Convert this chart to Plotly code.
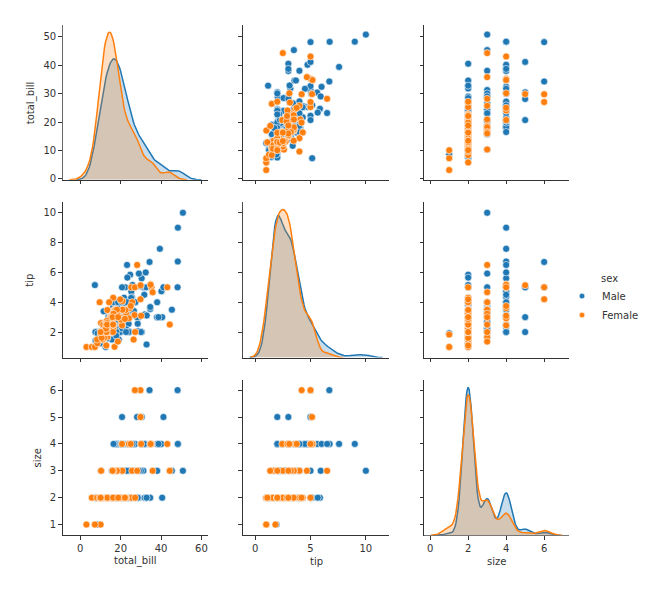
import numpy as np
import plotly.graph_objects as go

# ---------------- data (tips, split by sex) ----------------
male_total_bill = [10.34, 21.01, 23.68, 25.29, 8.77, 26.88, 15.04, 14.78, 10.27, 15.42, 18.43, 21.58, 16.29, 20.65,
                   17.92, 39.42, 19.82, 17.81, 13.37, 12.69, 21.70, 9.55, 18.35, 17.78, 24.06, 16.31, 18.69, 31.27,
                   16.04, 17.46, 13.94, 9.68, 30.40, 18.29, 22.23, 32.40, 28.55, 18.04, 12.54, 9.94, 25.56, 19.49,
                   38.01, 11.24, 48.27, 20.29, 13.81, 11.02, 18.29, 17.59, 20.08, 20.23, 15.01, 12.02, 10.51, 17.92,
                   27.20, 22.76, 17.29, 19.44, 16.66, 32.68, 15.98, 13.03, 18.28, 24.71, 21.16, 28.97, 22.49, 40.17,
                   27.28, 12.03, 21.01, 12.46, 15.36, 20.49, 25.21, 18.24, 14.00, 38.07, 23.95, 29.93, 11.69, 14.26,
                   15.95, 8.52, 22.82, 19.08, 16.00, 34.30, 41.19, 9.78, 7.51, 14.07, 13.13, 17.26, 24.55, 19.77,
                   48.17, 16.49, 21.50, 12.66, 13.81, 24.52, 20.76, 31.71, 50.81, 15.81, 7.25, 31.85, 16.82, 32.90,
                   17.89, 14.48, 34.63, 34.65, 23.33, 45.35, 23.17, 40.55, 20.69, 30.46, 23.10, 15.69, 28.44, 15.48,
                   16.58, 7.56, 10.34, 13.51, 18.71, 20.53, 26.59, 38.73, 24.27, 30.06, 25.89, 48.33, 28.15, 11.59,
                   7.74, 12.16, 8.58, 13.42, 20.45, 13.28, 24.01, 15.69, 11.61, 10.77, 15.53, 10.07, 12.60, 32.83,
                   29.03, 22.67, 17.82]
male_tip = [1.66, 3.50, 3.31, 4.71, 2.00, 3.12, 1.96, 3.23, 1.71, 1.57, 3.00, 3.92, 3.71, 3.35,
            4.08, 7.58, 3.18, 2.34, 2.00, 2.00, 4.30, 1.45, 2.50, 3.27, 3.60, 2.00, 2.31, 5.00,
            2.24, 2.54, 3.06, 1.32, 5.60, 3.00, 5.00, 6.00, 2.05, 3.00, 2.50, 1.56, 4.34, 3.51,
            3.00, 1.76, 6.73, 3.21, 2.00, 1.98, 3.76, 2.64, 3.15, 2.01, 2.09, 1.97, 1.25, 3.08,
            4.00, 3.00, 2.71, 3.00, 3.40, 5.00, 2.03, 2.00, 4.00, 5.85, 3.00, 3.00, 3.50, 4.73,
            4.00, 1.50, 3.00, 1.50, 1.64, 4.06, 4.29, 3.76, 3.00, 4.00, 2.55, 5.07, 2.31, 2.50,
            2.00, 1.48, 2.18, 1.50, 2.00, 6.70, 5.00, 1.73, 2.00, 2.50, 2.00, 2.74, 2.00, 2.00,
            5.00, 2.00, 3.50, 2.50, 2.00, 3.48, 2.24, 4.50, 10.00, 3.16, 5.15, 3.18, 4.00, 3.11,
            2.00, 2.00, 3.55, 3.68, 5.65, 3.50, 6.50, 3.00, 5.00, 2.00, 4.00, 1.50, 2.56, 2.02,
            4.00, 1.44, 2.00, 2.00, 4.00, 4.00, 3.41, 3.00, 2.03, 2.00, 5.16, 9.00, 3.00, 1.50,
            1.44, 2.20, 1.92, 1.58, 3.00, 2.72, 2.00, 3.00, 3.39, 1.47, 3.00, 1.25, 1.00, 1.17,
            5.92, 2.00, 1.75]
male_size = [3, 3, 2, 4, 2, 4, 2, 2, 2, 2, 4, 2, 3, 3,
             2, 4, 2, 4, 2, 2, 2, 2, 4, 2, 3, 3, 3, 3,
             3, 2, 2, 2, 4, 2, 2, 4, 3, 2, 2, 2, 4, 2,
             4, 2, 4, 2, 2, 2, 4, 3, 3, 2, 2, 2, 2, 2,
             4, 2, 2, 2, 2, 2, 2, 2, 2, 2, 2, 2, 2, 4,
             2, 2, 2, 2, 2, 2, 2, 2, 2, 3, 2, 4, 2, 2,
             2, 2, 3, 2, 2, 6, 5, 2, 2, 2, 2, 3, 4, 4,
             6, 4, 4, 2, 2, 3, 2, 4, 3, 2, 2, 2, 2, 2,
             2, 2, 2, 4, 2, 3, 4, 2, 5, 5, 3, 2, 2, 2,
             2, 2, 2, 2, 3, 4, 3, 4, 2, 3, 4, 4, 5, 2,
             2, 2, 1, 2, 4, 2, 4, 3, 2, 2, 2, 2, 2, 2,
             3, 2, 2]

female_total_bill = [16.99, 24.59, 35.26, 14.83, 10.33, 16.97, 20.29, 15.77, 19.65, 15.06, 20.69, 16.93, 10.29,
                     34.81, 26.41, 16.45, 3.07, 17.07, 26.86, 25.28, 14.73, 10.07, 34.83, 5.75, 16.32, 22.75,
                     11.35, 15.38, 44.30, 22.42, 20.92, 14.31, 7.25, 25.71, 17.31, 10.65, 12.43, 24.08, 13.42,
                     12.48, 29.80, 14.52, 11.38, 20.27, 11.17, 12.26, 18.26, 8.51, 10.33, 14.15, 13.16, 17.47,
                     27.05, 16.43, 8.35, 18.64, 11.87, 29.85, 25.00, 13.39, 16.21, 17.51, 10.59, 10.63, 9.60,
                     20.90, 18.15, 19.81, 43.11, 13.00, 12.74, 13.00, 16.40, 16.47, 12.76, 13.27, 28.17, 12.90,
                     30.14, 13.42, 15.98, 16.27, 10.09, 22.12, 35.83, 27.18, 18.78]
female_tip = [1.01, 3.61, 5.00, 3.02, 1.67, 3.50, 2.75, 2.23, 3.00, 3.00, 2.45, 3.07, 2.60,
              5.20, 1.50, 2.47, 1.00, 3.00, 3.14, 5.00, 2.20, 1.83, 5.17, 1.00, 4.30, 3.25,
              2.50, 3.00, 2.50, 3.48, 4.08, 4.00, 1.00, 4.00, 3.50, 1.50, 1.80, 2.92, 1.68,
              2.52, 4.20, 2.00, 2.00, 2.83, 1.50, 2.00, 3.25, 1.25, 2.00, 2.00, 2.75, 3.50,
              5.00, 2.30, 1.50, 1.36, 1.63, 5.14, 3.75, 2.61, 2.00, 3.00, 1.61, 2.00, 4.00,
              3.50, 3.50, 4.19, 5.00, 2.00, 2.01, 2.00, 2.50, 3.23, 2.23, 2.50, 6.50, 1.10,
              3.09, 3.48, 3.00, 2.50, 2.00, 2.88, 4.67, 2.00, 3.00]
female_size = [2, 4, 4, 2, 3, 3, 2, 2, 2, 2, 4, 3, 2,
               4, 2, 2, 1, 3, 2, 2, 2, 1, 4, 2, 2, 2,
               2, 2, 3, 2, 2, 2, 1, 3, 2, 2, 2, 4, 2,
               2, 6, 2, 2, 2, 2, 2, 2, 2, 2, 2, 2, 2,
               6, 2, 2, 3, 2, 5, 4, 2, 3, 2, 2, 2, 2,
               3, 3, 2, 4, 2, 2, 2, 2, 3, 2, 2, 3, 2,
               4, 2, 3, 2, 2, 2, 3, 2, 2]

variables = ["total_bill", "tip", "size"]
hue_levels = ["Male", "Female"]
hue_title = "sex"
x_tickvals = {"total_bill": [0, 20, 40, 60], "tip": [0, 5, 10], "size": [0, 2, 4, 6]}
y_tickvals = {"total_bill": [0, 10, 20, 30, 40, 50], "tip": [2, 4, 6, 8, 10], "size": [1, 2, 3, 4, 5, 6]}

# ---------------- styling / layout constants ----------------
PAGE_W, PAGE_H = 652, 596
OFF = 8                      # default margin of the html body around the figure
W, H = PAGE_W - 2 * OFF, PAGE_H - 2 * OFF
FONT = "DejaVu Sans"
TXT = "#333333"
colors = {"Male": "#1f77b4", "Female": "#ff7f0e"}
fills = {"Male": "rgba(31,119,180,0.25)", "Female": "rgba(255,127,14,0.25)"}
# positions below are in page pixels
col_px = [(63, 209), (244, 391), (426.3, 571.7)]
row_px = [(25, 181), (203.5, 360), (382.5, 539)]
y_ranges = {"total_bill": [-0.36, 54.24], "tip": [0.29, 10.71], "size": [0.6, 6.38]}
ytitle_x_px = {"total_bill": 31, "tip": 30, "size": 38}
xtitle_y_px = 565
legend_left_px, legend_top_px = 565, 283.5
legend_title_px = (612, 280)


def px(xp):
    return (xp - OFF) / W


def py(yp):
    return 1 - (yp - OFF) / H


data = {
    "Male": {"total_bill": male_total_bill, "tip": male_tip, "size": male_size},
    "Female": {"total_bill": female_total_bill, "tip": female_tip, "size": female_size},
}


def kde(values, cut=3, gridsize=128):
    v = np.asarray(values, dtype=float)
    n = len(v)
    q75, q25 = np.percentile(v, [75, 25])
    a = min(np.std(v, ddof=1), (q75 - q25) / 1.349)
    bw = 1.059 * a * n ** (-0.2)
    grid = np.linspace(v.min() - cut * bw, v.max() + cut * bw, gridsize)
    dens = np.exp(-0.5 * ((grid[:, None] - v[None, :]) / bw) ** 2).sum(axis=1) / (n * bw * np.sqrt(2 * np.pi))
    return grid, dens


kdes = {var: {h: kde(data[h][var]) for h in hue_levels} for var in variables}
x_ranges = {}
for var in variables:
    lo = min(kdes[var][h][0].min() for h in hue_levels)
    hi = max(kdes[var][h][0].max() for h in hue_levels)
    pad = 0.05 * (hi - lo)
    x_ranges[var] = [lo - pad, hi + pad]

fig = go.Figure()
layout = {}
annotations = []

axis_common = dict(showgrid=False, zeroline=False, showline=True, linecolor=TXT, linewidth=1,
                   ticks="outside", ticklen=3.5, tickwidth=1, tickcolor=TXT,
                   tickfont=dict(family=FONT, size=10, color=TXT))


def ax_names(k):
    return ("x" if k == 1 else f"x{k}", "y" if k == 1 else f"y{k}",
            "xaxis" if k == 1 else f"xaxis{k}", "yaxis" if k == 1 else f"yaxis{k}")


for i, yvar in enumerate(variables):
    for j, xvar in enumerate(variables):
        k = i * 3 + j + 1
        xn, yn, xk, yk = ax_names(k)
        x0, x1 = col_px[j]
        t0, t1 = row_px[i]
        xdom = [px(x0), px(x1)]
        ydom = [py(t1), py(t0)]
        layout[xk] = dict(axis_common, domain=xdom, range=x_ranges[xvar], anchor=yn,
                          tickvals=x_tickvals[xvar], showticklabels=(i == 2))
        layout[yk] = dict(axis_common, domain=ydom, range=y_ranges[yvar], anchor=xn,
                          tickvals=y_tickvals[yvar], showticklabels=(j == 0))
        if i == 2:
            annotations.append(dict(text=xvar, xref="paper", yref="paper", x=px((x0 + x1) / 2),
                                    y=py(xtitle_y_px), xanchor="center", yanchor="middle",
                                    showarrow=False, font=dict(family=FONT, size=10, color=TXT)))
        if j == 0:
            annotations.append(dict(text=yvar, xref="paper", yref="paper", x=px(ytitle_x_px[yvar]),
                                    y=py((t0 + t1) / 2), xanchor="center", yanchor="middle",
                                    textangle=-90, showarrow=False,
                                    font=dict(family=FONT, size=10, color=TXT)))

        if i == j:
            # visible axes of the diagonal cell (no marks of their own)
            fig.add_trace(go.Scatter(x=[None], y=[None], mode="markers", xaxis=xn, yaxis=yn,
                                     showlegend=False, hoverinfo="skip"))
            # hidden twin axes carrying the density curves
            kk = 10 + i
            dmax = max(kdes[xvar][h][1].max() for h in hue_levels)
            layout[f"xaxis{kk}"] = dict(domain=xdom, range=x_ranges[xvar], anchor=f"y{kk}", visible=False,
                                        showgrid=False, zeroline=False)
            layout[f"yaxis{kk}"] = dict(domain=ydom, range=[0, 1.05 * dmax], anchor=f"x{kk}", visible=False,
                                        showgrid=False, zeroline=False)
            for h in hue_levels:
                g, d = kdes[xvar][h]
                fig.add_trace(go.Scatter(x=g, y=d, mode="lines", line=dict(color=colors[h], width=1.5),
                                         fill="tozeroy", fillcolor=fills[h], xaxis=f"x{kk}", yaxis=f"y{kk}",
                                         showlegend=False, hoverinfo="skip"))
        else:
            for h in hue_levels:
                fig.add_trace(go.Scatter(x=data[h][xvar], y=data[h][yvar], mode="markers",
                                         marker=dict(color=colors[h], size=7,
                                                     line=dict(color="white", width=0.6)),
                                         xaxis=xn, yaxis=yn, showlegend=False, name=h))

# legend entries
for h in hue_levels:
    fig.add_trace(go.Scatter(x=[None], y=[None], mode="markers", name=h,
                             marker=dict(color=colors[h], size=5.5, line=dict(color="white", width=0.5)),
                             xaxis="x2", yaxis="y2", showlegend=True))

annotations.append(dict(text=hue_title, xref="paper", yref="paper", x=px(legend_title_px[0]),
                        y=py(legend_title_px[1]), xanchor="center", yanchor="middle", showarrow=False,
                        font=dict(family=FONT, size=10, color=TXT)))

fig.update_layout(
    **layout,
    annotations=annotations,
    width=W, height=H,
    margin=dict(l=0, r=0, t=0, b=0),
    paper_bgcolor="white", plot_bgcolor="white",
    font=dict(family=FONT, size=10, color=TXT),
    legend=dict(x=px(legend_left_px), y=py(legend_top_px), xanchor="left", yanchor="top",
                bgcolor="rgba(0,0,0,0)", borderwidth=0, itemwidth=30,
                font=dict(family=FONT, size=10, color=TXT)),
)

fig.write_html("out.html")
